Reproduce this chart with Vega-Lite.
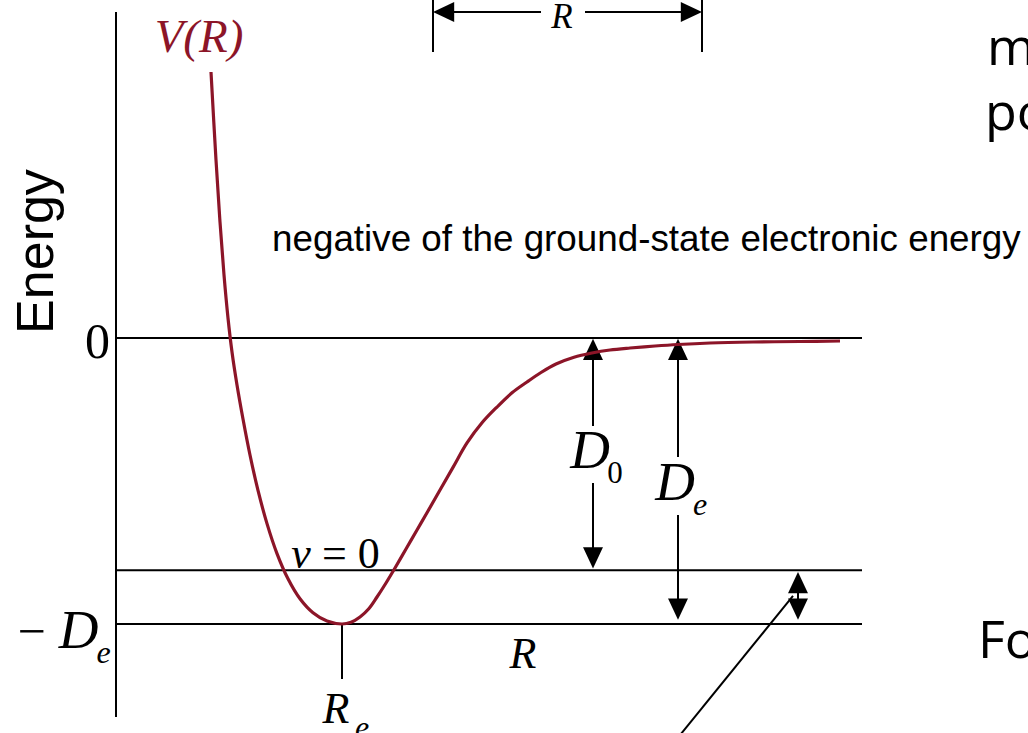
{
  "$schema": "https://vega.github.io/schema/vega-lite/v6.json",
  "description": "Potential energy curve V(R) of a diatomic molecule with the dissociation energies D0 and De marked.",
  "width": 1028,
  "height": 733,
  "padding": 0,
  "autosize": {"type": "none"},
  "background": "white",
  "config": {"view": {"stroke": null}},
  "encoding": {
    "x": {"field": "R", "type": "quantitative", "axis": null,
          "scale": {"domain": [0, 10.28], "nice": false, "zero": false}},
    "y": {"field": "E", "type": "quantitative", "axis": null,
          "scale": {"domain": [-1.38112, 1.18182], "nice": false, "zero": false}}
  },
  "layer": [
    {
      "description": "Frame, energy levels, dimension lines and arrow shafts",
      "data": {"values": [
        {"part": "energy axis", "R": 1.16, "E": 1.14, "R2": 1.16, "E2": -1.325},
        {"part": "zero level", "R": 1.16, "E": 0.0, "R2": 8.62, "E2": 0.0},
        {"part": "v=0 level", "R": 1.16, "E": -0.812, "R2": 8.62, "E2": -0.812},
        {"part": "-De level", "R": 1.16, "E": -1.0, "R2": 8.62, "E2": -1.0},
        {"part": "Re tick", "R": 3.42, "E": -1.0, "R2": 3.42, "E2": -1.192},
        {"part": "R bracket left", "R": 4.33, "E": 1.19, "R2": 4.33, "E2": 1.0},
        {"part": "R bracket right", "R": 7.02, "E": 1.19, "R2": 7.02, "E2": 1.0},
        {"part": "R shaft left", "R": 4.45, "E": 1.1399, "R2": 5.41, "E2": 1.1399},
        {"part": "R shaft right", "R": 5.85, "E": 1.1399, "R2": 6.9, "E2": 1.1399},
        {"part": "D0 shaft upper", "R": 5.93, "E": -0.02, "R2": 5.93, "E2": -0.3077},
        {"part": "D0 shaft lower", "R": 5.93, "E": -0.507, "R2": 5.93, "E2": -0.79},
        {"part": "De shaft upper", "R": 6.78, "E": -0.02, "R2": 6.78, "E2": -0.416},
        {"part": "De shaft lower", "R": 6.78, "E": -0.619, "R2": 6.78, "E2": -0.97},
        {"part": "zero-point shaft", "R": 7.98, "E": -0.83, "R2": 7.98, "E2": -0.97},
        {"part": "pointer", "R": 7.93, "E": -0.902, "R2": 6.72, "E2": -1.423}
      ]},
      "mark": {"type": "rule", "color": "#000000", "strokeWidth": 2},
      "encoding": {
        "x2": {"field": "R2"},
        "y2": {"field": "E2"}
      }
    },
    {
      "description": "Arrowheads, tip at the given point",
      "data": {"values": [
        {"R": 4.33, "E": 1.1399, "dir": "left"},
        {"R": 7.02, "E": 1.1399, "dir": "right"},
        {"R": 5.93, "E": -0.003, "dir": "up"},
        {"R": 5.93, "E": -0.806, "dir": "down"},
        {"R": 6.78, "E": -0.003, "dir": "up"},
        {"R": 6.78, "E": -0.985, "dir": "down"},
        {"R": 7.98, "E": -0.818, "dir": "up"},
        {"R": 7.98, "E": -0.985, "dir": "down"}
      ]},
      "mark": {"type": "point", "filled": true, "color": "#000000", "opacity": 1, "size": 1800, "strokeWidth": 0},
      "encoding": {
        "shape": {
          "field": "dir", "type": "nominal", "legend": null,
          "scale": {
            "domain": ["up", "down", "left", "right"],
            "range": [
              "M0,0L0.47,1L-0.47,1Z",
              "M0,0L0.47,-1L-0.47,-1Z",
              "M0,0L1,0.47L1,-0.47Z",
              "M0,0L-1,0.47L-1,-0.47Z"
            ]
          }
        }
      }
    },
    {
      "description": "Potential energy curve V(R)",
      "data": {"values": [
        {"R": 2.11, "E": 0.9301},
        {"R": 2.16, "E": 0.6224},
        {"R": 2.2, "E": 0.4056},
        {"R": 2.24, "E": 0.2203},
        {"R": 2.28, "E": 0.0699},
        {"R": 2.32, "E": -0.049},
        {"R": 2.37, "E": -0.1643},
        {"R": 2.43, "E": -0.2832},
        {"R": 2.5, "E": -0.4091},
        {"R": 2.58, "E": -0.5329},
        {"R": 2.67, "E": -0.649},
        {"R": 2.77, "E": -0.7538},
        {"R": 2.88, "E": -0.842},
        {"R": 3.0, "E": -0.9119},
        {"R": 3.13, "E": -0.9608},
        {"R": 3.27, "E": -0.9899},
        {"R": 3.42, "E": -1.0},
        {"R": 3.51, "E": -0.994},
        {"R": 3.6, "E": -0.9755},
        {"R": 3.69, "E": -0.9458},
        {"R": 3.77, "E": -0.9056},
        {"R": 3.86, "E": -0.8566},
        {"R": 3.95, "E": -0.8042},
        {"R": 4.06, "E": -0.7378},
        {"R": 4.17, "E": -0.6713},
        {"R": 4.28, "E": -0.6049},
        {"R": 4.4, "E": -0.5315},
        {"R": 4.53, "E": -0.4524},
        {"R": 4.67, "E": -0.3671},
        {"R": 4.82, "E": -0.2965},
        {"R": 4.97, "E": -0.2413},
        {"R": 5.12, "E": -0.1916},
        {"R": 5.27, "E": -0.1538},
        {"R": 5.41, "E": -0.1206},
        {"R": 5.56, "E": -0.0909},
        {"R": 5.74, "E": -0.0671},
        {"R": 5.92, "E": -0.0524},
        {"R": 6.1, "E": -0.042},
        {"R": 6.3, "E": -0.035},
        {"R": 6.55, "E": -0.028},
        {"R": 6.78, "E": -0.0227},
        {"R": 7.1, "E": -0.0175},
        {"R": 7.53, "E": -0.014},
        {"R": 8.0, "E": -0.0122},
        {"R": 8.4, "E": -0.0105}
      ]},
      "mark": {"type": "line", "color": "#8c1528", "strokeWidth": 3.2, "interpolate": "catmull-rom", "strokeCap": "butt"}
    },
    {
      "description": "Curve name",
      "data": {"values": [{"R": 1.99, "E": 1.0, "label": "V(R)"}]},
      "mark": {"type": "text", "font": "Liberation Serif", "fontStyle": "italic", "fontSize": 47, "color": "#8c1528", "align": "center", "baseline": "alphabetic"},
      "encoding": {"text": {"field": "label"}}
    },
    {
      "description": "Dissociation energy symbols",
      "data": {"values": [
        {"R": 0.785, "E": -1.0839, "label": "D"},
        {"R": 5.9, "E": -0.4545, "label": "D"},
        {"R": 6.75, "E": -0.5664, "label": "D"}
      ]},
      "mark": {"type": "text", "font": "Liberation Serif", "fontStyle": "italic", "fontSize": 55, "color": "#000000", "align": "center", "baseline": "alphabetic"},
      "encoding": {"text": {"field": "label"}}
    },
    {
      "description": "Italic subscripts",
      "data": {"values": [
        {"R": 1.035, "E": -1.1364, "label": "e"},
        {"R": 7.0, "E": -0.6189, "label": "e"},
        {"R": 3.62, "E": -1.3986, "label": "e"}
      ]},
      "mark": {"type": "text", "font": "Liberation Serif", "fontStyle": "italic", "fontSize": 32, "color": "#000000", "align": "center", "baseline": "alphabetic"},
      "encoding": {"text": {"field": "label"}}
    },
    {
      "description": "Upright subscript of D0",
      "data": {"values": [{"R": 6.15, "E": -0.507, "label": "0"}]},
      "mark": {"type": "text", "font": "Liberation Serif", "fontSize": 31, "color": "#000000", "align": "center", "baseline": "alphabetic"},
      "encoding": {"text": {"field": "label"}}
    },
    {
      "description": "Energy axis marks: zero and the minus sign of -De",
      "data": {"values": [
        {"R": 0.975, "E": -0.0699, "label": "0"},
        {"R": 0.315, "E": -1.0839, "label": "−"}
      ]},
      "mark": {"type": "text", "font": "Liberation Serif", "fontSize": 50, "color": "#000000", "align": "center", "baseline": "alphabetic"},
      "encoding": {"text": {"field": "label"}}
    },
    {
      "description": "Vibrational level label",
      "data": {"values": [{"R": 3.01, "E": -0.8042, "label": "ν"}]},
      "mark": {"type": "text", "font": "Liberation Serif", "fontStyle": "italic", "fontSize": 44, "color": "#000000", "align": "center", "baseline": "alphabetic"},
      "encoding": {"text": {"field": "label"}}
    },
    {
      "data": {"values": [{"R": 3.22, "E": -0.8042, "label": "= 0"}]},
      "mark": {"type": "text", "font": "Liberation Serif", "fontSize": 44, "color": "#000000", "align": "left", "baseline": "alphabetic"},
      "encoding": {"text": {"field": "label"}}
    },
    {
      "description": "Internuclear distance labels",
      "data": {"values": [
        {"R": 5.62, "E": 1.0839, "label": "R", "size": "small"},
        {"R": 5.23, "E": -1.1538, "label": "R", "size": "large"},
        {"R": 3.36, "E": -1.3462, "label": "R", "size": "large"}
      ]},
      "mark": {"type": "text", "font": "Liberation Serif", "fontStyle": "italic", "color": "#000000", "align": "center", "baseline": "alphabetic"},
      "encoding": {
        "text": {"field": "label"},
        "size": {"field": "size", "type": "nominal", "legend": null,
                 "scale": {"domain": ["small", "large"], "range": [35, 44]}}
      }
    },
    {
      "description": "Axis title",
      "data": {"values": [{"R": 0.53, "E": 0.3024, "label": "Energy"}]},
      "mark": {"type": "text", "font": "Liberation Sans", "fontSize": 52, "angle": 270, "color": "#000000", "align": "center", "baseline": "alphabetic"},
      "encoding": {"text": {"field": "label"}}
    },
    {
      "description": "Note on the zero of energy",
      "data": {"values": [{"R": 2.72, "E": 0.3042, "label": "negative of the ground-state electronic energy"}]},
      "mark": {"type": "text", "font": "Liberation Sans", "fontSize": 36.8, "color": "#000000", "align": "left", "baseline": "alphabetic"},
      "encoding": {"text": {"field": "label"}}
    },
    {
      "description": "Side text running past the right edge",
      "data": {"values": [
        {"R": 9.87, "E": 0.9545, "label": "m"},
        {"R": 9.85, "E": 0.7273, "label": "po"},
        {"R": 9.78, "E": -1.1189, "label": "Fo"}
      ]},
      "mark": {"type": "text", "font": "Open Sans", "fontSize": 52, "color": "#000000", "align": "left", "baseline": "alphabetic"},
      "encoding": {"text": {"field": "label"}}
    }
  ]
}
